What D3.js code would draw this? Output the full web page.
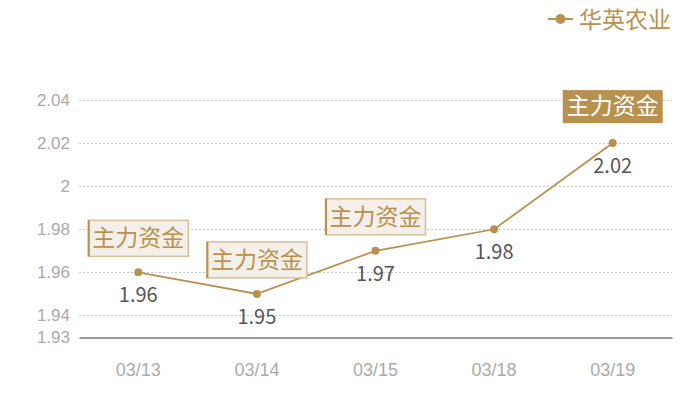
<!DOCTYPE html>
<html>
<head>
<meta charset="utf-8">
<script src="https://cdn.jsdelivr.net/npm/d3@7"></script>
<style>
  body { margin: 0; background: #fff; }
  svg { font-family: "Noto Sans CJK SC", "Noto Sans", sans-serif; }
</style>
</head>
<body>
<div id="main"></div>
<script>
const dates = ['03/13', '03/14', '03/15', '03/18', '03/19'];
const prices = [1.96, 1.95, 1.97, 1.98, 2.02];
const flags = ['主力资金', '主力资金', '主力资金', '', '主力资金'];
const yTicks = [1.93, 1.94, 1.96, 1.98, 2, 2.02, 2.04];
const seriesName = '华英农业';

const width = 700, height = 400;
const gold = '#b8914f';
const svg = d3.select('#main').append('svg').attr('width', width).attr('height', height);

const x = d3.scaleBand().domain(dates).range([79, 672]);
const y = d3.scaleLinear().domain([1.93, 2.04]).range([337, 100]);
const cx = d => x(d) + x.bandwidth() / 2;

// grid lines
svg.append('g').selectAll('line').data(yTicks.filter(t => t !== 1.93)).join('line')
  .attr('x1', 79).attr('x2', 672)
  .attr('y1', d => Math.round(y(d)) + 0.5).attr('y2', d => Math.round(y(d)) + 0.5)
  .attr('stroke', '#c8c8c8').attr('stroke-dasharray', '2,2');

// y axis labels
const yAxis = svg.append('g').attr('transform', 'translate(70,0)')
  .call(d3.axisLeft(y).tickValues(yTicks).tickSize(0).tickPadding(0).tickFormat(d => d3.format('')(+d.toFixed(2))));
yAxis.select('.domain').remove();
yAxis.selectAll('text').attr('fill', '#aaa').attr('font-size', 17);

// x axis
const xAxis = svg.append('g').attr('transform', 'translate(0,' + (Math.round(y(1.93)) + 0.5) + ')')
  .call(d3.axisBottom(x).tickSize(0).tickPadding(26));
xAxis.select('.domain').attr('stroke', '#333').attr('stroke-width', 1);
xAxis.selectAll('text').attr('fill', '#aaa').attr('font-size', 18);

// line
const line = d3.line().x((d, i) => cx(dates[i])).y(d => y(d));
svg.append('path').datum(prices).attr('d', line)
  .attr('fill', 'none').attr('stroke', gold).attr('stroke-width', 1.8);

svg.append('g').selectAll('circle').data(prices).join('circle')
  .attr('cx', (d, i) => cx(dates[i])).attr('cy', d => y(d)).attr('r', 4).attr('fill', gold);

// value labels
svg.append('g').selectAll('text').data(prices).join('text')
  .attr('x', (d, i) => cx(dates[i])).attr('y', d => y(d) + 30)
  .attr('text-anchor', 'middle').attr('font-size', 20).attr('fill', '#555')
  .text(d => d.toFixed(2));

// annotation boxes
const notes = svg.append('g').selectAll('g')
  .data(prices.map((p, i) => ({ p, i, f: flags[i] })).filter(d => d.f))
  .join('g')
  .attr('transform', d => 'translate(' + cx(dates[d.i]) + ',' + (y(d.p) - 35) + ')');
notes.each(function(d) {
  const g = d3.select(this);
  const last = d.i === dates.length - 1;
  const top = last ? -18 : -17;
  g.append('rect').attr('x', -50).attr('y', top).attr('width', 100).attr('height', last ? 33 : 36)
    .attr('fill', last ? gold : '#f4efe8').attr('stroke', last ? 'none' : '#d7bf98').attr('stroke-width', 1.5);
  if (!last) {
    g.append('line').attr('x1', -49.5).attr('x2', -49.5).attr('y1', top).attr('y2', top + 36)
      .attr('stroke', gold).attr('stroke-width', 2);
  }
  g.append('text').attr('y', last ? 6 : 9).attr('text-anchor', 'middle')
    .attr('font-size', 23).attr('fill', last ? '#fff' : gold).text(d.f);
});

// legend
const lg = svg.append('g').attr('transform', 'translate(548,19)');
lg.append('line').attr('x1', 0).attr('x2', 25).attr('stroke', gold).attr('stroke-width', 2);
lg.append('circle').attr('cx', 12.5).attr('r', 5).attr('fill', gold);
lg.append('text').attr('x', 31).attr('y', 8.5).attr('font-size', 23).attr('fill', gold).text(seriesName);
</script>
</body>
</html>
